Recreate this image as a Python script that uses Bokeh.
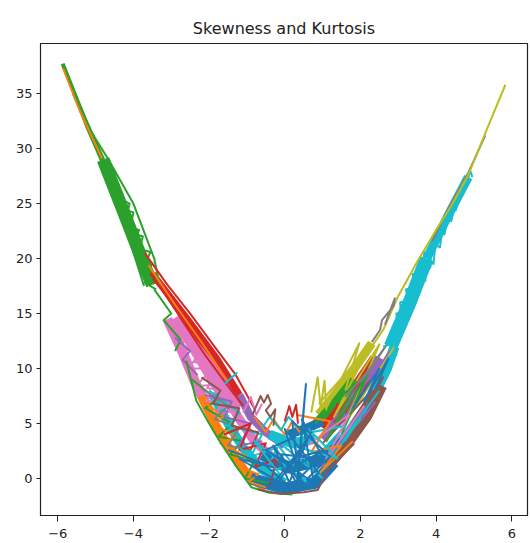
from bokeh.plotting import figure
from bokeh.models import FixedTicker, Range1d
from bokeh.embed import file_html
from bokeh.resources import INLINE

TITLE = "Skewness and Kurtosis"
x_ticks = [-6, -4, -2, 0, 2, 4, 6]
x_tick_labels = ["\u22126", "\u22124", "\u22122", "0", "2", "4", "6"]
y_ticks = [0, 5, 10, 15, 20, 25, 30, 35]
y_tick_labels = ["0", "5", "10", "15", "20", "25", "30", "35"]

# ---- dense bundles (skewness x, kurtosis y) ----
green_bundle_top_x = [-5.87, -5.3, -4.8]
green_bundle_top_y = [37.7, 32.8, 29.0]
green_bundle_x = [-4.8, -4.3, -3.85, -3.5]
green_bundle_y = [29.0, 24.6, 20.6, 17.6]
red_bundle_x = [-3.5, -2.6, -1.8, -1.2]
red_bundle_y = [18.6, 14.6, 10.9, 7.6]
pink_bundle_a_x = [-3.1, -2.7, -2.35, -2.0]
pink_bundle_a_y = [14.5, 11.5, 8.6, 6.2]
pink_bundle_b_x = [-2.9, -2.4, -1.95, -1.5]
pink_bundle_b_y = [14.6, 11.8, 9.2, 6.8]
pink_bundle_c_x = [-2.6, -2.1, -1.65, -1.15]
pink_bundle_c_y = [14.4, 11.6, 9.0, 6.6]
orange_bundle_x = [-2.2, -1.85, -1.45, -1.0, -0.5]
orange_bundle_y = [7.5, 5.0, 2.6, 0.4, -0.9]
cyan_bundle_left_x = [-1.9, -1.5, -1.1, -0.6, 0.0]
cyan_bundle_left_y = [7.6, 5.0, 2.8, 0.8, -0.4]
pink_bundle_low_x = [-1.6, -1.2, -0.8, -0.3]
pink_bundle_low_y = [7.8, 5.4, 3.4, 1.8]
purple_bundle_low_x = [-1.2, -0.9, -0.5, 0.0]
purple_bundle_low_y = [7.6, 5.6, 4.2, 3.0]
blue_bundle_a_x = [-0.9, 0.0, 0.8, 1.3]
blue_bundle_a_y = [0.0, -0.9, -0.4, 1.5]
blue_bundle_b_x = [-0.6, 0.1, 0.9, 1.5]
blue_bundle_b_y = [2.2, 1.0, 1.6, 3.6]
blue_bundle_c_x = [0.1, 0.6, 1.0]
blue_bundle_c_y = [4.0, 4.6, 5.2]
cyan_bundle_mid_x = [-0.4, 0.2, 0.8]
cyan_bundle_mid_y = [4.0, 3.2, 3.6]
olive_bundle_x = [0.9, 1.5, 2.0, 2.3]
olive_bundle_y = [5.8, 8.4, 10.8, 12.3]
red_bundle_right_x = [1.0, 1.5, 1.95, 2.35]
red_bundle_right_y = [4.6, 6.8, 9.0, 11.0]
purple_bundle_x = [1.0, 1.6, 2.1, 2.5]
purple_bundle_y = [3.6, 6.2, 8.6, 11.0]
cyan_bundle_right_x = [1.1, 1.7, 2.3, 2.7, 2.9]
cyan_bundle_right_y = [1.8, 4.2, 7.2, 10.0, 12.0]
brown_bundle_x = [1.2, 1.7, 2.2, 2.6]
brown_bundle_y = [1.2, 3.2, 5.6, 8.4]
green_bundle_right_x = [0.7, 1.3, 1.8]
green_bundle_right_y = [4.6, 6.8, 9.0]
cyan_bundle_arm_x = [2.8, 3.3, 3.75]
cyan_bundle_arm_y = [12.0, 16.0, 20.0]
cyan_bundle_arm_top_x = [3.75, 4.3, 4.85]
cyan_bundle_arm_top_y = [20.0, 23.8, 27.4]

# ---- single traces ----
green_a_x = [-5.87, -5.2, -4.66, -4.0, -3.45, -3.3]
green_a_y = [37.7, 32.0, 29.0, 25.0, 20.0, 17.5]
green_b_x = [-5.85, -5.25, -4.87, -4.4, -3.95, -3.72]
green_b_y = [37.6, 32.0, 29.0, 25.0, 20.0, 17.5]
green_c_x = [-5.6, -5.2, -4.8, -4.55, -4.6, -4.3, -4.35, -4.0, -4.1, -3.75, -3.9, -3.5, -3.7, -3.4]
green_c_y = [35.0, 31.8, 28.6, 27.6, 26.4, 26.0, 24.6, 24.2, 22.4, 22.0, 20.0, 19.6, 17.8, 17.2]
green_d_x = [-5.4, -5.0, -4.98, -4.7, -4.5, -4.45, -4.1, -4.25, -3.85, -4.0, -3.55, -3.8, -3.3]
green_d_y = [33.8, 30.6, 30.0, 28.4, 27.2, 25.6, 25.0, 23.0, 22.6, 21.0, 20.6, 18.6, 18.0]
orange_top_x = [-5.86, -5.4, -4.83]
orange_top_y = [37.3, 33.3, 29.1]
green_mid_x = [-3.45, -3.0, -3.2, -2.75, -2.9]
green_mid_y = [17.2, 15.0, 14.4, 12.6, 11.6]
red_a_x = [-3.7, -3.1, -2.5, -1.9, -1.31, -1.0, -0.78]
red_a_y = [20.5, 17.6, 15.0, 12.2, 9.5, 7.6, 6.2]
red_b_x = [-3.55, -2.9, -2.3, -1.7, -1.25]
red_b_y = [18.7, 15.4, 12.6, 10.0, 7.8]
red_c_x = [-3.3, -2.7, -2.1, -1.5, -1.1]
red_c_y = [17.6, 14.3, 11.2, 8.4, 6.6]
orange_mid_x = [-3.6, -2.9, -2.2, -1.5]
orange_mid_y = [19.4, 15.8, 12.4, 8.8]
pink_a_x = [-3.0, -2.5, -2.8, -2.2, -2.55, -1.9, -2.35, -1.6, -2.1, -1.4, -1.9, -1.2]
pink_a_y = [14.0, 13.2, 11.8, 11.6, 10.0, 10.0, 8.4, 8.6, 7.0, 7.4, 5.8, 6.2]
pink_b_x = [-2.7, -2.2, -2.4, -1.8, -2.05, -1.5, -1.75, -1.3]
pink_b_y = [13.0, 12.4, 10.6, 10.2, 8.2, 8.0, 6.4, 6.6]
purple_left_x = [-2.9, -2.5, -2.7, -2.3]
purple_left_y = [12.8, 11.6, 10.8, 9.4]
green_low_x = [-2.45, -1.8, -2.1, -1.4, -1.75, -1.1, -1.45, -0.8, -1.05, -0.4]
green_low_y = [9.0, 7.2, 6.4, 5.0, 3.8, 3.4, 2.2, 1.6, 0.0, -0.4]
orange_low_x = [-2.3, -1.6, -2.0, -1.3, -1.7, -1.0, -1.3, -0.7, -0.95, -0.5]
orange_low_y = [7.4, 5.6, 5.2, 3.8, 3.2, 2.0, 1.2, 0.4, -0.3, -0.8]
gray_low_x = [-2.2, -1.5, -1.85, -1.2, -1.5, -0.9]
gray_low_y = [8.2, 6.6, 5.4, 4.6, 3.0, 2.6]
cyan_low_x = [-2.0, -1.2, -1.5, -0.6, -0.9, -0.2, -0.5, 0.2]
cyan_low_y = [8.0, 6.0, 4.8, 4.0, 2.0, 2.8, 0.6, 1.2]
purple_low_x = [-2.1, -1.4, -1.6, -0.9, -1.2, -0.6]
purple_low_y = [7.6, 7.0, 5.6, 5.0, 3.0, 3.4]
brown_low_x = [-2.2, -1.7, -1.9, -1.2, -1.4, -0.7, -0.9]
brown_low_y = [9.2, 8.0, 6.8, 6.4, 4.8, 4.2, 2.6]
red_low_x = [-1.6, -0.9, -1.2, -0.5, -0.8, -0.2, -0.4]
red_low_y = [4.0, 5.0, 2.6, 3.2, 1.0, 1.8, -0.6]
green_edge_x = [-2.6, -2.34, -2.0, -1.74, -1.3, -0.88, -0.4, 0.2]
green_edge_y = [10.7, 7.1, 5.0, 3.5, 1.2, -0.8, -1.3, -1.45]
orange_center_x = [-0.8, -0.5, -0.3, 0.0, 0.2, 0.4]
orange_center_y = [5.6, 4.2, 5.4, 4.0, 5.2, 4.2]
cyan_center_x = [-0.6, -0.4, -0.1, 0.1, 0.35]
cyan_center_y = [4.6, 5.6, 4.4, 5.6, 4.6]
pink_center_x = [-1.1, -0.9, -0.75, -0.6]
pink_center_y = [6.0, 7.4, 5.8, 6.8]
red_right_x = [1.0, 1.4, 1.3, 1.7, 1.6, 2.0, 1.9, 2.3]
red_right_y = [4.0, 6.8, 5.2, 7.8, 6.0, 8.6, 6.8, 9.4]
purple_right_x = [1.2, 2.6, 1.5, 2.75, 1.8, 2.4]
purple_right_y = [5.0, 10.5, 4.6, 11.5, 4.4, 7.0]
olive_right_x = [0.9, 2.2, 1.3, 2.5, 1.6, 2.9]
olive_right_y = [6.8, 11.8, 5.6, 12.2, 5.0, 12.0]
brown_right_x = [1.0, 2.3, 1.4, 2.6, 1.7]
brown_right_y = [3.2, 8.0, 3.0, 9.2, 3.6]
green_right_x = [0.8, 1.9, 1.1, 2.2, 1.5]
green_right_y = [5.0, 8.8, 3.4, 9.6, 4.0]
cyan_right_x = [0.4, 1.6, 0.9, 2.0, 1.2, 2.5]
cyan_right_y = [4.0, 4.8, 2.2, 5.4, 1.8, 8.0]
pink_right_x = [0.6, 1.7, 1.0, 2.1]
pink_right_y = [3.0, 5.8, 1.2, 6.6]
orange_right_x = [0.3, 1.2, 0.7, 1.5, 0.9, 1.8]
orange_right_y = [5.8, 5.2, 2.4, 3.0, 0.4, 3.4]
gray_right_x = [1.6, 2.4, 2.0, 2.7, 2.2]
gray_right_y = [7.4, 10.6, 8.8, 12.2, 9.6]
blue_right_x = [1.8, 2.5, 2.1, 2.75, 2.4]
blue_right_y = [6.4, 10.0, 7.0, 11.0, 8.2]
cyan_arm_a_x = [2.7, 2.95, 2.85, 3.1, 3.05, 3.52, 3.38, 3.72, 3.68, 3.93, 4.02, 4.22, 4.38, 4.52, 4.7, 4.78, 4.9, 4.96]
cyan_arm_a_y = [11.0, 11.2, 13.8, 13.6, 16.0, 16.5, 18.6, 18.0, 20.6, 19.5, 22.6, 22.2, 24.8, 24.4, 26.6, 26.4, 28.0, 27.4]
cyan_arm_b_x = [2.6, 3.0, 2.95, 3.35, 3.2, 3.62, 3.55, 3.85, 3.85, 4.1, 4.2, 4.4, 4.55, 4.62]
cyan_arm_b_y = [12.0, 12.4, 15.0, 15.2, 17.2, 17.6, 19.8, 19.2, 21.6, 21.0, 23.6, 23.4, 25.6, 25.2]
gray_arm_x = [3.9, 4.33, 4.85, 5.3]
gray_arm_y = [21.6, 24.6, 27.8, 31.2]
olive_arm_x = [2.0, 2.6, 3.0, 3.5, 4.0, 4.4, 4.85, 5.36, 5.83]
olive_arm_y = [10.5, 13.5, 16.6, 19.7, 22.6, 24.8, 27.6, 31.9, 35.8]
gray_hook_x = [2.3, 2.52, 2.57, 2.88, 2.91, 2.8, 2.65]
gray_hook_y = [12.4, 13.5, 14.4, 15.7, 16.4, 15.4, 14.0]
cyan_bottom_x = [-1.2, 0.0, -0.8, 0.6, -0.4, 1.0, 0.2, 1.4, 0.6]
cyan_bottom_y = [2.8, -0.2, 3.4, -0.4, 4.0, 0.0, 3.0, 1.8, 4.6]
blue_a_x = [-0.6, 0.2, -0.3, 0.5, 0.0, 0.9, 0.3, 0.56, 0.4, 1.0, 0.1, 0.7, -0.2, 0.8, 0.45, 1.1]
blue_a_y = [1.5, -1.0, 3.0, -0.8, 4.5, 0.5, -1.2, 8.6, 2.0, 2.5, 0.8, 4.2, -0.5, -0.9, 5.4, 1.4]
blue_b_x = [-0.4, 0.6, 0.0, 0.9, -0.1, 0.4, 0.2, 1.2, 0.6, -0.5, 0.3]
blue_b_y = [-0.9, 3.5, -1.3, 1.8, 2.2, -1.0, 5.2, 2.0, 0.0, 2.6, 3.8]
blue_c_x = [-1.5, -0.3, -1.2, 0.0, -0.8, 0.4]
blue_c_y = [2.6, 1.0, 1.8, -0.6, 0.2, -1.2]
brown_edge_x = [-0.7, -0.1, 0.5, 0.87, 1.13, 1.5, 1.84]
brown_edge_y = [-1.0, -1.4, -1.25, -1.05, 0.7, 2.0, 3.2]
brown_scribble_x = [-0.85, -0.64, -0.55, -0.45, -0.36, -0.5, -0.38, -0.25, -0.3]
brown_scribble_y = [5.8, 7.5, 6.9, 7.6, 6.8, 6.2, 5.6, 6.3, 4.8]
red_spikes_x = [0.0, 0.12, 0.2, 0.3, 0.35]
red_spikes_y = [5.2, 6.6, 5.6, 6.7, 5.0]
olive_spikes_x = [0.7, 0.87, 0.95, 1.05, 1.1]
olive_spikes_y = [6.0, 9.2, 6.5, 8.9, 6.2]
olive_long_x = [1.1, 1.97, 1.6]
olive_long_y = [6.4, 12.3, 8.0]
cyan_tick_x = [-1.6, -1.27, -1.35]
cyan_tick_y = [8.6, 9.6, 9.3]

BLUE, ORANGE, GREEN, RED, PURPLE = "#1f77b4", "#ff7f0e", "#2ca02c", "#d62728", "#9467bd"
BROWN, PINK, GRAY, OLIVE, CYAN = "#8c564b", "#e377c2", "#7f7f7f", "#bcbd22", "#17becf"

bundles = [
    (green_bundle_top_x, green_bundle_top_y, GREEN, 4),
    (green_bundle_x, green_bundle_y, GREEN, 13),
    (pink_bundle_a_x, pink_bundle_a_y, PINK, 10),
    (pink_bundle_b_x, pink_bundle_b_y, PINK, 10),
    (pink_bundle_c_x, pink_bundle_c_y, PINK, 9),
    (red_bundle_x, red_bundle_y, RED, 7),
    (orange_bundle_x, orange_bundle_y, ORANGE, 9),
    (cyan_bundle_left_x, cyan_bundle_left_y, CYAN, 9),
    (pink_bundle_low_x, pink_bundle_low_y, PINK, 9),
    (purple_bundle_low_x, purple_bundle_low_y, PURPLE, 8),
    (olive_bundle_x, olive_bundle_y, OLIVE, 9),
    (red_bundle_right_x, red_bundle_right_y, RED, 7),
    (purple_bundle_x, purple_bundle_y, PURPLE, 9),
    (cyan_bundle_right_x, cyan_bundle_right_y, CYAN, 10),
    (brown_bundle_x, brown_bundle_y, BROWN, 8),
    (green_bundle_right_x, green_bundle_right_y, GREEN, 8),
    (cyan_bundle_arm_x, cyan_bundle_arm_y, CYAN, 14),
    (cyan_bundle_arm_top_x, cyan_bundle_arm_top_y, CYAN, 9),
    (blue_bundle_a_x, blue_bundle_a_y, BLUE, 12),
    (blue_bundle_b_x, blue_bundle_b_y, BLUE, 12),
    (blue_bundle_c_x, blue_bundle_c_y, BLUE, 9),
    (cyan_bundle_mid_x, cyan_bundle_mid_y, CYAN, 10),
]

series = [
    (green_a_x, green_a_y, GREEN), (green_b_x, green_b_y, GREEN),
    (green_c_x, green_c_y, GREEN), (green_d_x, green_d_y, GREEN),
    (orange_top_x, orange_top_y, ORANGE), (green_mid_x, green_mid_y, GREEN),
    (pink_a_x, pink_a_y, PINK), (pink_b_x, pink_b_y, PINK),
    (purple_left_x, purple_left_y, PURPLE),
    (red_a_x, red_a_y, RED), (red_b_x, red_b_y, RED), (red_c_x, red_c_y, RED),
    (orange_mid_x, orange_mid_y, ORANGE),
    (green_low_x, green_low_y, GREEN), (orange_low_x, orange_low_y, ORANGE),
    (gray_low_x, gray_low_y, GRAY), (cyan_low_x, cyan_low_y, CYAN),
    (purple_low_x, purple_low_y, PURPLE), (brown_low_x, brown_low_y, BROWN),
    (red_low_x, red_low_y, RED), (green_edge_x, green_edge_y, GREEN),
    (orange_center_x, orange_center_y, ORANGE), (cyan_center_x, cyan_center_y, CYAN),
    (pink_center_x, pink_center_y, PINK),
    (red_right_x, red_right_y, RED), (purple_right_x, purple_right_y, PURPLE),
    (olive_right_x, olive_right_y, OLIVE), (brown_right_x, brown_right_y, BROWN),
    (green_right_x, green_right_y, GREEN), (cyan_right_x, cyan_right_y, CYAN),
    (pink_right_x, pink_right_y, PINK), (orange_right_x, orange_right_y, ORANGE),
    (gray_right_x, gray_right_y, GRAY), (blue_right_x, blue_right_y, BLUE),
    (cyan_arm_a_x, cyan_arm_a_y, CYAN), (cyan_arm_b_x, cyan_arm_b_y, CYAN),
    (gray_arm_x, gray_arm_y, GRAY), (olive_arm_x, olive_arm_y, OLIVE),
    (gray_hook_x, gray_hook_y, GRAY),
    (cyan_bottom_x, cyan_bottom_y, CYAN), (blue_a_x, blue_a_y, BLUE),
    (blue_b_x, blue_b_y, BLUE), (blue_c_x, blue_c_y, BLUE),
    (brown_edge_x, brown_edge_y, BROWN),
    (brown_scribble_x, brown_scribble_y, BROWN), (red_spikes_x, red_spikes_y, RED),
    (olive_spikes_x, olive_spikes_y, OLIVE), (olive_long_x, olive_long_y, OLIVE),
    (cyan_tick_x, cyan_tick_y, CYAN),
]

p = figure(width=530, height=543, x_range=Range1d(-6.455, 6.415), y_range=Range1d(-3.36, 39.55),
           output_backend="svg", toolbar_location=None,
           min_border_left=40, min_border_right=3, min_border_top=43, min_border_bottom=28)

for xs, ys, col, w in bundles:
    p.line(xs, ys, line_color=col, line_width=w, line_join="round", line_cap="butt")
for xs, ys, col in series:
    p.line(xs, ys, line_color=col, line_width=2, line_join="round")

p.title.text = TITLE
p.title.align = "center"
p.title.text_font = "DejaVu Sans"
p.title.text_font_size = "16px"
p.title.text_font_style = "normal"
p.title.text_color = "#222222"
p.title.standoff = 12

p.xgrid.visible = False
p.ygrid.visible = False
p.outline_line_color = "#222222"
p.outline_line_width = 1.2
p.background_fill_color = "white"
p.border_fill_color = "white"

p.xaxis.ticker = FixedTicker(ticks=x_ticks)
p.yaxis.ticker = FixedTicker(ticks=y_ticks)
p.xaxis.major_label_overrides = {t: s for t, s in zip(x_ticks, x_tick_labels)}
p.yaxis.major_label_overrides = {t: s for t, s in zip(y_ticks, y_tick_labels)}
for ax in (p.xaxis, p.yaxis):
    ax.axis_line_color = "#222222"
    ax.major_tick_line_color = "#222222"
    ax.major_tick_in = 0
    ax.minor_tick_line_color = None
    ax.major_label_text_font = "DejaVu Sans"
    ax.major_label_text_font_size = "13px"
    ax.major_label_text_color = "#222222"
p.xaxis.major_tick_out = 6
p.xaxis.major_label_standoff = 7
p.yaxis.major_tick_out = 4
p.yaxis.major_label_standoff = 4

open("out.html", "w").write(file_html(p, INLINE))
